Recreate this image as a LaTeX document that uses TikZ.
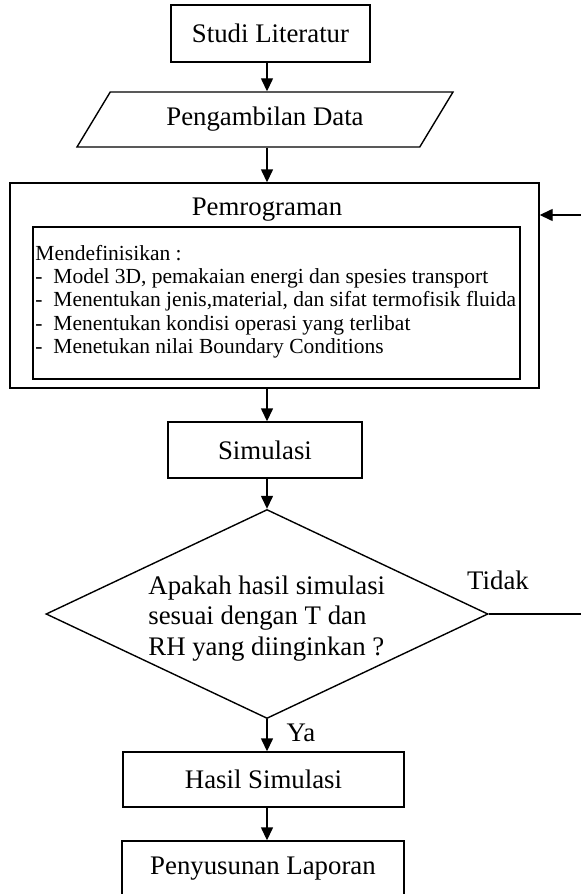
\documentclass[tikz,border=0pt]{standalone}
\usepackage{fontspec}
\setmainfont{Liberation Serif}
\usetikzlibrary{arrows.meta,shapes.geometric}
\begin{document}
\begin{tikzpicture}[x=0.5pt,y=-0.5pt,
  every node/.style={font=\fontsize{13.4}{15.4}\selectfont},
  box/.style={draw,line width=0.7pt,inner sep=0pt,align=center},
  arr/.style={-{Triangle[length=6.5pt,width=6pt]},line width=0.7pt},
  conn/.style={line width=0.7pt},
  lbl/.style={inner sep=0pt}]
\clip (0,0) rectangle (581,894);
\useasboundingbox (0,0) rectangle (581,894);
\coordinate (col) at (267,0);

\node[box, minimum width=99.5pt, minimum height=28.5pt] (studi) at (270.5,33.5) {Studi Literatur};
\node[draw, line width=0.7pt, trapezium, trapezium left angle=36.25, trapezium right angle=143.75,
  trapezium stretches body=true, minimum width=188pt, minimum height=27.5pt, inner sep=0pt] (data) at (265,119.5) {Pengambilan Data};

\node[box, minimum width=264.5pt, minimum height=102.5pt] (prog) at (274.5,285.5) {};
\node[anchor=base, lbl] (progtitle) at (267,215) {Pemrograman};
\node[box, minimum width=243.5pt, minimum height=76pt] (defs) at (276.5,303) {};
\node[anchor=north west, lbl, align=left, font=\fontsize{10.75}{11.6}\selectfont] (defstext) at (35,245)
  {Mendefinisikan :\\
   \makebox[9pt][l]{-}Model 3D, pemakaian energi dan spesies transport\\
   \makebox[9pt][l]{-}Menentukan jenis,material, dan sifat termofisik fluida\\
   \makebox[9pt][l]{-}Menentukan kondisi operasi yang terlibat\\
   \makebox[9pt][l]{-}Menetukan nilai Boundary Conditions};

\node[box, minimum width=97pt, minimum height=28pt] (sim) at (265,450) {Simulasi};
\node[draw, line width=0.7pt, diamond, aspect=2.115, minimum width=221pt, minimum height=104.5pt,
  inner sep=0pt] (dec) at (267,614) {};
\node[lbl, align=left, anchor=west] (dectext) at (148,618.5) {Apakah hasil simulasi\\sesuai dengan T dan\\RH yang diinginkan ?};
\node[lbl] (tidak) at (498,580) {Tidak};
\node[lbl] (ya) at (301,733) {Ya};
\node[box, minimum width=140.5pt, minimum height=27.5pt] (hasil) at (263.5,779.5) {Hasil Simulasi};
\node[box, minimum width=141pt, minimum height=27.5pt] (lap) at (263,868.5) {Penyusunan Laporan};

\coordinate (fbB) at (595,614);
\coordinate (fbT) at (595,215);

\draw[arr] (studi.south -| col) -- (data.north -| col);
\draw[arr] (data.south -| col) -- (prog.north -| col);
\draw[arr] (prog.south -| col) -- (sim.north -| col);
\draw[arr] (sim.south -| col) -- (dec.north);
\draw[arr] (dec.south) -- (hasil.north -| dec.south);
\draw[arr] (hasil.south -| col) -- (lap.north -| col);
\draw[arr] (dec.east) -- (fbB) -- (fbT) -- (fbT -| prog.east);
\end{tikzpicture}
\end{document}
